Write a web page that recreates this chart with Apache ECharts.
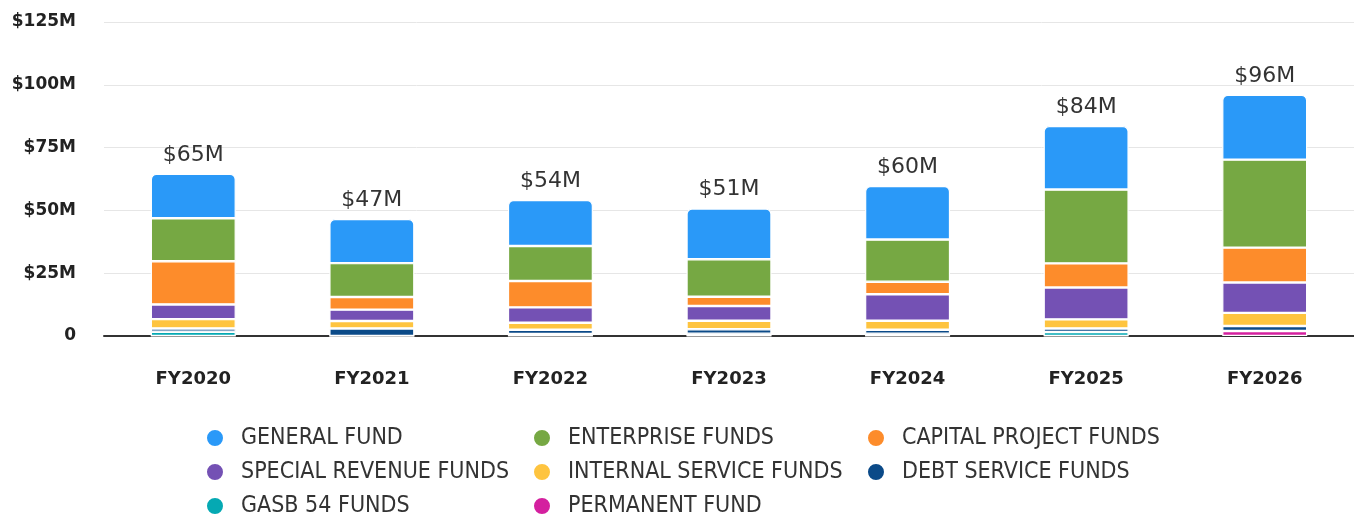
<!DOCTYPE html>
<html><head><meta charset="utf-8">
<script src="https://cdn.jsdelivr.net/npm/echarts@6/dist/echarts.min.js"></script>
<style>html,body{margin:0;padding:0;background:#fff}#c{width:1354px;height:519px}</style>
</head><body><div id="c"></div>
<script>
const categories = ['FY2020','FY2021','FY2022','FY2023','FY2024','FY2025','FY2026'];
// values in $M
const generalFund      = [17.7, 17.6, 18.3, 20.2, 21.3, 25.3, 25.8];
const enterpriseFunds  = [17.1, 13.5, 13.9, 14.9, 16.8, 29.4, 35.0];
const capitalProject   = [17.2,  5.0, 10.5,  3.7,  5.0,  9.6, 13.9];
const specialRevenue   = [ 5.85, 4.5,  6.1,  5.85,10.5, 12.7, 12.1];
const internalService  = [ 3.7,  3.0,  2.8,  3.4,  3.6,  3.6,  5.2];
const debtService      = [ 1.3,  3.0,  1.7,  1.8,  1.6,  1.4,  2.0];
const gasb54           = [ 1.7,  0.0,  0.8,  0.9,  0.9,  1.6,  0.0];
const permanentFund    = [ 0.0,  0.0,  0.0,  0.0,  0.0,  0.0,  2.0];
const yTicks = [0, 25, 50, 75, 100, 125];

const seriesDefs = [
  ['PERMANENT FUND', permanentFund, '#d4209f'],
  ['GASB 54 FUNDS', gasb54, '#05a9b3'],
  ['DEBT SERVICE FUNDS', debtService, '#0b4a88'],
  ['INTERNAL SERVICE FUNDS', internalService, '#fec43f'],
  ['SPECIAL REVENUE FUNDS', specialRevenue, '#7451b4'],
  ['CAPITAL PROJECT FUNDS', capitalProject, '#fd8c2b'],
  ['ENTERPRISE FUNDS', enterpriseFunds, '#76a843'],
  ['GENERAL FUND', generalFund, '#2a99f8']
];
const totals = categories.map((c,i)=>seriesDefs.reduce((s,d)=>s+d[1][i],0));

const series = seriesDefs.map((d,idx)=>{
  const isTop = idx === seriesDefs.length-1;
  return {
    name: d[0], type: 'bar', stack: 'total', data: d[1], barWidth: '47.6%',
    itemStyle: { color: d[2], borderColor: '#fff', borderWidth: 1.2, borderRadius: isTop ? [5,5,0,0] : 0 },
    label: isTop ? { show: true, position: 'top', distance: 8,
      formatter: p => '$' + Math.round(totals[p.dataIndex]) + 'M',
      fontFamily: 'DejaVu Sans', fontSize: 22, fontWeight: 'normal', color: '#333' } : { show: false },
    emphasis: { disabled: true }
  };
});

const legendCommon = {
  orient: 'vertical', icon: 'circle', itemWidth: 18, itemHeight: 18, itemGap: 10, padding: 0,
  textStyle: { fontFamily: 'DejaVu Sans Condensed', fontSize: 23, color: '#333', padding: [0,0,0,12], lineHeight: 24 },
  selectedMode: false, top: 426
};

const chart = echarts.init(document.getElementById('c'));
chart.setOption({
  animation: false,
  grid: { left: 104, right: 0, top: 22, bottom: 183, containLabel: false },
  legend: [
    Object.assign({}, legendCommon, { left: 205, data: ['GENERAL FUND','SPECIAL REVENUE FUNDS','GASB 54 FUNDS'] }),
    Object.assign({}, legendCommon, { left: 532, data: ['ENTERPRISE FUNDS','INTERNAL SERVICE FUNDS','PERMANENT FUND'] }),
    Object.assign({}, legendCommon, { left: 866, data: ['CAPITAL PROJECT FUNDS','DEBT SERVICE FUNDS'] })
  ],
  xAxis: {
    type: 'category', data: categories,
    axisLine: { lineStyle: { color: '#333', width: 2 } },
    axisTick: { show: false },
    axisLabel: { margin: 32, fontFamily: 'DejaVu Sans', fontWeight: 'bold', fontSize: 18, color: '#222', padding: [2,0,0,0] }
  },
  yAxis: {
    type: 'value', min: yTicks[0], max: yTicks[yTicks.length-1], interval: 25,
    axisLine: { show: false }, axisTick: { show: false },
    splitLine: { lineStyle: { color: '#e6e6e6', width: 1 } },
    axisLabel: { margin: 28, fontFamily: 'DejaVu Sans', fontWeight: 'bold', fontSize: 17, color: '#222', padding: [4,0,0,0],
      formatter: v => v === 0 ? '0' : '$' + v + 'M' }
  },
  series: series
});
</script></body></html>
